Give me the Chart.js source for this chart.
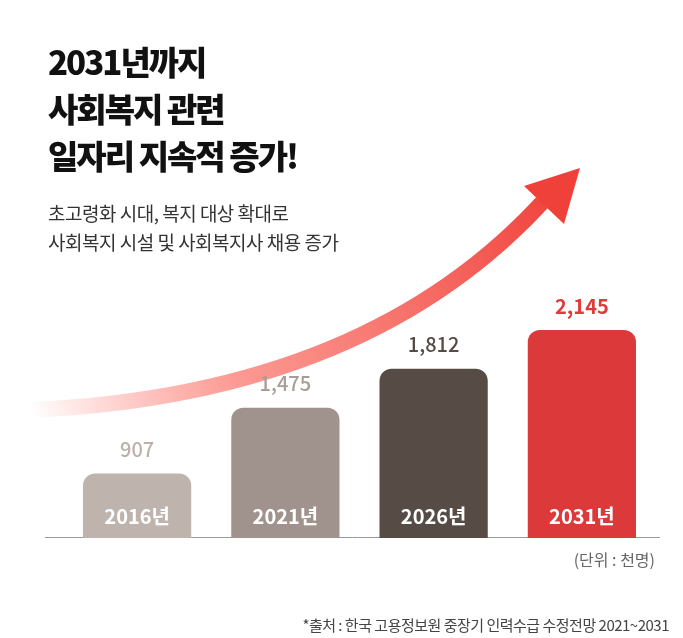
<!DOCTYPE html>
<html><head><meta charset="utf-8">
<script src="https://cdn.jsdelivr.net/npm/chart.js@4/dist/chart.umd.min.js"></script>
<style>
body{margin:0;width:683px;height:638px;background:#fff;font-family:"Noto Sans CJK KR","Noto Sans",sans-serif;position:relative;overflow:hidden}
#deco{position:absolute;left:0;top:0}
#wrap{position:absolute;left:63px;top:260px;width:593px;height:278px}
.t{position:absolute;left:48px;top:38px;font-size:33px;font-weight:900;line-height:47px;letter-spacing:-2px;color:#111}
.s{position:absolute;left:48px;top:198px;font-size:19px;line-height:29px;color:#333;letter-spacing:-0.5px}
.u{position:absolute;right:28px;top:547px;font-size:16px;color:#666}
.src{position:absolute;right:14px;top:614px;font-size:15px;color:#444;letter-spacing:-0.5px}
</style></head><body>
<canvas id="deco" width="683" height="638"></canvas>
<div class="t">2031년까지<br>사회복지 관련<br>일자리 지속적 증가!</div>
<div class="s">초고령화 시대, 복지 대상 확대로<br>사회복지 시설 및 사회복지사 채용 증가</div>
<div id="wrap"><canvas id="c"></canvas></div>
<div class="u">(단위 : 천명)</div>
<div class="src">*출처 : 한국 고용정보원 중장기 인력수급 수정전망 2021~2031</div>
<script>
const years = ["2016년", "2021년", "2026년", "2031년"];
const workers = [907, 1475, 1812, 2145];
const barColors = ["#bfb3ae", "#a0928c", "#574b45", "#dc3a3a"];
const labelColors = ["#bcb0aa", "#a99c96", "#554a44", "#e03b3b"];

// decorative arrow + baseline
const d = document.getElementById("deco").getContext("2d");
const g = d.createLinearGradient(30, 410, 560, 180);
g.addColorStop(0, "rgba(255,90,80,0)");
g.addColorStop(0.35, "rgba(250,110,100,0.7)");
g.addColorStop(1, "#f0403a");
d.strokeStyle = g; d.lineWidth = 16; d.lineCap = "butt";
d.beginPath(); d.moveTo(30, 410); d.quadraticCurveTo(370, 395, 548, 196); d.stroke();
d.fillStyle = "#f0403a";
d.beginPath(); d.moveTo(580, 168); d.lineTo(564, 224); d.lineTo(524, 186); d.closePath(); d.fill();
d.strokeStyle = "#999"; d.lineWidth = 1;
d.beginPath(); d.moveTo(45, 537.5); d.lineTo(660, 537.5); d.stroke();

const labels = {
  id: "labels",
  afterDatasetsDraw(chart) {
    const ctx = chart.ctx;
    chart.getDatasetMeta(0).data.forEach((bar, i) => {
      ctx.save();
      ctx.textAlign = "center";
      ctx.font = (i === 3 ? "bold" : "500") + " 20px 'Noto Sans CJK KR'";
      ctx.fillStyle = labelColors[i];
      ctx.textBaseline = "bottom";
      ctx.fillText(workers[i].toLocaleString("en-US"), bar.x, bar.y - 14);
      ctx.font = "bold 20px 'Noto Sans CJK KR'";
      ctx.fillStyle = "#fff";
      ctx.textBaseline = "middle";
      ctx.fillText(years[i], bar.x, chart.chartArea.bottom - 22);
      ctx.restore();
    });
  }
};

new Chart(document.getElementById("c"), {
  type: "bar",
  data: { labels: years, datasets: [{ data: workers, backgroundColor: barColors,
    borderRadius: { topLeft: 12, topRight: 12 }, borderSkipped: "bottom",
    barPercentage: 0.73, categoryPercentage: 1 }] },
  options: {
    responsive: true, maintainAspectRatio: false, animation: false,
    layout: { padding: 0 },
    plugins: { legend: { display: false }, tooltip: { enabled: false } },
    scales: {
      x: { display: false },
      y: { display: false, min: 350, max: 2750 }
    }
  },
  plugins: [labels]
});
</script>
</body></html>
